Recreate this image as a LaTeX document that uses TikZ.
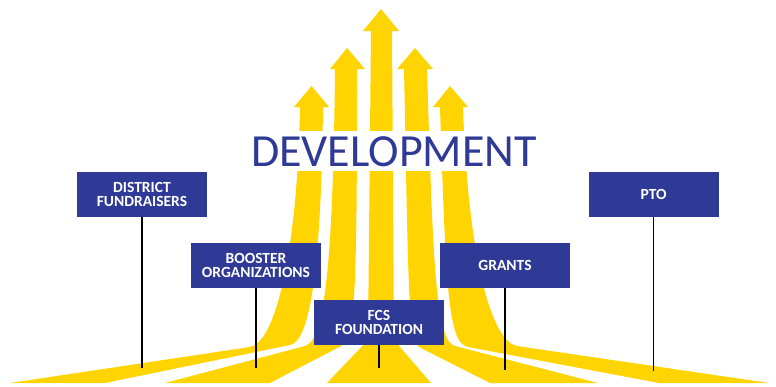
\documentclass[tikz,border=0pt]{standalone}
\usepackage{fontspec}
\setmainfont{Carlito}
\usepackage{tikz}
\definecolor{devblue}{RGB}{46,58,150}
\definecolor{devyellow}{RGB}{255,212,0}

\begin{document}
\begin{tikzpicture}[x=1pt,y=-1pt,
    box/.style={fill=devblue,text=white,minimum width=130pt,minimum height=45pt,
      inner sep=2pt,align=center,font=\fontsize{15.5}{14.5}\selectfont\bfseries},
    pole/.style={line width=1.6pt,black}]
    \useasboundingbox (0,0) rectangle (776,386);
    % arrows, each running down into a ribbon
    \fill[devyellow] (311.5,86) -- (329,107) -- (323,107) .. controls (321,270) and (310,341) .. (290,345)
      -- (105,383) -- (10,383) -- (250,347) .. controls (274,343) and (297,260) .. (300,107) -- (294,107) -- cycle;
    \fill[devyellow] (347,48) -- (365,69) -- (357,69) .. controls (357,270) and (356,338) .. (343,345)
      -- (270,383) -- (165,383) -- (305,346) .. controls (324,341) and (333,270) .. (335,69) -- (330,69) -- cycle;
    \fill[devyellow] (381,9) -- (399,31) -- (392,31) -- (394,340) -- (431,383) -- (327,383) -- (368,340)
      -- (371,31) -- (363,31) -- cycle;
    \fill[devyellow] (415,48) -- (433,69) -- (427,69) .. controls (433,270) and (436,341) .. (455,346)
      -- (598,383) -- (490,383) -- (419,347) .. controls (407,341) and (408,250) .. (404,69) -- (397,69) -- cycle;
    \fill[devyellow] (450,86) -- (468,107) -- (463,107) .. controls (468,260) and (492,342) .. (517,346)
      -- (769,383) -- (659,383) -- (468,347) .. controls (448,343) and (446,290) .. (440,107) -- (433,107) -- cycle;
    % title
    \node[fill=white,text=devblue,inner xsep=2pt,inner ysep=4.5pt,text height=31pt,text depth=0pt,
      font=\fontsize{46}{46}\selectfont] (title) at (394,150.5) {DEVELOPMENT};
    % labels and poles
    \node[box] (df) at (142,194.5) {DISTRICT\\FUNDRAISERS};
    \node[box] (bo) at (256,265.5) {BOOSTER\\ORGANIZATIONS};
    \node[box] (fcs) at (379,322.5) {FCS\\FOUNDATION};
    \node[box] (gr) at (505,265.5) {GRANTS};
    \node[box] (pto) at (653.5,194) {PTO};
    \coordinate (df1) at (142,368);
    \coordinate (bo1) at (256,368);
    \coordinate (fcs1) at (379,368);
    \coordinate (gr1) at (505,370);
    \coordinate (pto1) at (653.5,371);
    \draw[pole] (df.south) -- (df1);
    \draw[pole] (bo.south) -- (bo1);
    \draw[pole] (fcs.south) -- (fcs1);
    \draw[pole] (gr.south) -- (gr1);
    \draw[pole] (pto.south) -- (pto1);
  \end{tikzpicture}
\end{document}
